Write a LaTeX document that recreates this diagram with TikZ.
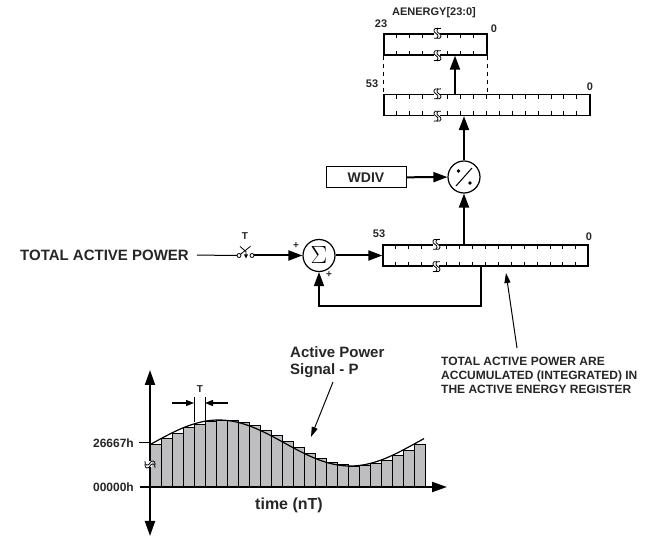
\documentclass[tikz,border=0pt]{standalone}
\usepackage{fontspec}
\setmainfont{Liberation Sans}
\usetikzlibrary{arrows.meta,positioning}
\definecolor{ink}{rgb}{0.15,0.15,0.15}
\definecolor{barfill}{RGB}{190,190,193}
\tikzset{
  reg/.style={draw, line width=1.3pt, minimum height=21pt, inner sep=0pt},
  tick/.style={line width=1pt},
  op/.style={circle, draw, line width=1.2pt, minimum size=32pt, inner sep=0pt},
  wbox/.style={draw, line width=1pt, minimum width=80pt, minimum height=21pt,
    font=\fontsize{14}{16}\selectfont\bfseries, text=ink},
  lbl/.style={font=\fontsize{11}{13}\selectfont\bfseries, text=ink, inner sep=0pt},
  big text/.style={font=\fontsize{15}{17}\selectfont\bfseries, text=ink, inner sep=0pt},
  note/.style={font=\fontsize{12}{14}\selectfont\bfseries, text=ink, inner sep=0pt, align=left},
  flow/.style={line width=2pt, -{Triangle[length=14pt,width=10pt]}},
  wire/.style={line width=1pt},
  pointer/.style={line width=1pt, -{Triangle[length=10pt,width=6pt]}},
  small pointer/.style={line width=1.2pt, -{Triangle[length=8pt,width=6pt]}},
  axis/.style={line width=2pt},
  bar/.style={draw, fill=barfill, line width=0.8pt},
  signal/.style={line width=1.2pt},
  reg break/.pic={
    \fill[white] (-2.5,-2) rectangle (3.5,2);
    \draw[line width=0.8pt] (1,-5) .. controls (-4,-6) and (-4,-1) .. (-1,0)
      .. controls (2,1) and (2,6) .. (-3,5);
    \draw[line width=0.8pt] (4,-5) .. controls (-1,-6) and (-1,-1) .. (2,0)
      .. controls (5,1) and (5,6) .. (0,5);
  }
}

\begin{document}
\begin{tikzpicture}[x=1pt, y=-1pt]
  \useasboundingbox (0,0) rectangle (649,537);

  \node [reg, minimum width=103pt] (aenergy) at (435.5,44.5) {};
  \node [reg, minimum width=206pt] (midreg) at (487,105) {};
  \node [reg, minimum width=205pt] (accreg) at (485.5,255.5) {};
  \node [op] (sum) at (319,255.5) {\fontsize{23}{23}\selectfont$\Sigma$};
  \node [op] (div) at (464,177) {};
  \node [wbox] (wdiv) at (366,177.5) {WDIV};

  \foreach \k in {1,2,3,5,6,7} {
    \draw [tick] ([xshift=\k*12.9pt]aenergy.north west) -- ++(0,5);
    \draw [tick] ([xshift=\k*12.9pt]aenergy.south west) -- ++(0,-5);
  }
  \foreach \k in {1,2,3,5,6,...,15} {
    \draw [tick] ([xshift=\k*12.9pt]midreg.north west) -- ++(0,5);
    \draw [tick] ([xshift=\k*12.9pt]midreg.south west) -- ++(0,-5);
    \draw [tick] ([xshift=\k*12.9pt]accreg.north west) -- ++(0,5);
    \draw [tick] ([xshift=\k*12.9pt]accreg.south west) -- ++(0,-5);
  }
  \foreach \r in {aenergy,midreg,accreg} {
    \pic at ([xshift=53.6pt]\r.north west) {reg break};
    \pic at ([xshift=53.6pt]\r.south west) {reg break};
  }

  \node [lbl] (aename) at (434,13) {AENERGY[23:0]};
  \node [lbl] (aemsb) at (381,24) {23};
  \node [lbl] (aelsb) at (494,29) {0};
  \node [lbl] (midmsb) at (372,84) {53};
  \node [lbl] (midlsb) at (590,87) {0};
  \node [lbl] (accmsb) at (379,234) {53};
  \node [lbl] (acclsb) at (589,237) {0};

  \draw [dashed, dash pattern=on 4pt off 4pt, line width=1pt]
    (aenergy.south west) -- (aenergy.south west |- midreg.north);
  \draw [dashed, dash pattern=on 4pt off 4pt, line width=1pt]
    (aenergy.south east) -- (aenergy.south east |- midreg.north);

  \coordinate (upx) at (455,0);
  \draw [flow] (midreg.north -| upx) -- (aenergy.south -| upx);
  \draw [flow] (div) -- (div |- midreg.south);
  \draw [flow] (accreg.north -| div) -- (div);
  \draw [flow] (wdiv) -- (div);
  \fill (div.center) ++(-5.5,-6) circle (1.9);
  \fill (div.center) ++(6,6) circle (1.9);
  \draw [line width=1pt] (div.center) ++(-8,9) -- ++(16,-18);

  \node [big text, anchor=east] (inlabel) at (189,255) {TOTAL ACTIVE POWER};
  \coordinate (sw1) at (239,255.5);
  \coordinate (sw2) at (252,255.5);
  \draw [wire, shorten <=8pt, shorten >=2pt] (inlabel.east) -- (sw1);
  \draw [line width=0.8pt] (sw1) circle (2) (sw2) circle (2);
  \draw [line width=0.8pt] (sw1) ++(1.5,-1.2) -- ++(10,-8);
  \draw [line width=0.8pt, -{Triangle[length=4pt,width=3.5pt]}]
    (sw1) ++(1,-9) -- ++(6,5) -- ++(0,7);
  \node [lbl, font=\fontsize{10}{12}\selectfont\bfseries] (swt) at (245,236) {T};
  \draw [flow, shorten <=2pt] (sw2) -- (sum);
  \node [lbl, font=\fontsize{10}{12}\selectfont\bfseries] (plusa) at (296,246) {+};
  \node [lbl, font=\fontsize{10}{12}\selectfont\bfseries] (plusb) at (329,275) {+};
  \draw [flow] (sum) -- (accreg);
  \coordinate (fb) at (481,306);
  \draw [line width=1.5pt, -{Triangle[length=14pt,width=10pt]}]
    (accreg.south -| fb) -- (fb) -| (sum);

  \node [note, anchor=north west] (annot) at (441,357)
    {TOTAL ACTIVE POWER ARE\\ACCUMULATED (INTEGRATED) IN\\THE ACTIVE ENERGY REGISTER};
  \coordinate (atail) at (517,348);
  \coordinate (atip) at (506,273);
  \draw [pointer] (atail) -- (atip);

  \foreach \k in {0,...,24} {
    \pgfmathsetmacro\xa{150+11*\k}
    \pgfmathsetmacro\ya{443-23*sin((\xa-153)*1.36882)}
    \draw [bar] (\xa,487) rectangle ({\xa+11},\ya);
  }
  \draw [signal] plot [domain=150:424, samples=90] (\x,{443-23*sin((\x-153)*1.36882)});

  \coordinate (ytop) at (150,370);
  \coordinate (ybot) at (150,536);
  \coordinate (xleft) at (140,487);
  \coordinate (xright) at (447,487);
  \draw [axis, {Triangle[length=15pt,width=10pt]}-{Triangle[length=15pt,width=10pt]}] (ybot) -- (ytop);
  \draw [axis, -{Triangle[length=15pt,width=10pt]}] (xleft) -- (xright);
  \coordinate (hitick) at (139,443);
  \draw [line width=1pt] (hitick) -- (hitick -| ytop);
  \pic [rotate=90] at (150,465) {reg break};

  \node [lbl, font=\fontsize{12}{14}\selectfont\bfseries, anchor=east] (hival) at (134,443) {26667h};
  \node [lbl, font=\fontsize{12}{14}\selectfont\bfseries, anchor=east] (loval) at (134,487) {00000h};
  \node [big text, font=\fontsize{16}{18}\selectfont\bfseries] (tlabel) at (289,505) {time (nT)};

  \coordinate (tla) at (194,397);
  \coordinate (tlb) at (194,422);
  \coordinate (tra) at (205,397);
  \coordinate (trb) at (205,421);
  \draw [line width=0.8pt] (tla) -- (tlb) (tra) -- (trb);
  \coordinate (tlfrom) at (172,403);
  \coordinate (trfrom) at (228,403);
  \draw [small pointer] (tlfrom) -- (tlfrom -| tla);
  \draw [small pointer] (trfrom) -- (trfrom -| tra);
  \node [lbl, font=\fontsize{10}{12}\selectfont\bfseries] (tmark) at (200,389) {T};

  \node [big text, anchor=north west, align=left] (signame) at (290,346)
    {Active Power\\Signal - P};
  \coordinate (ptail) at (333,382);
  \coordinate (ptip) at (311,437);
  \draw [pointer] (ptail) -- (ptip);
\end{tikzpicture}
\end{document}
